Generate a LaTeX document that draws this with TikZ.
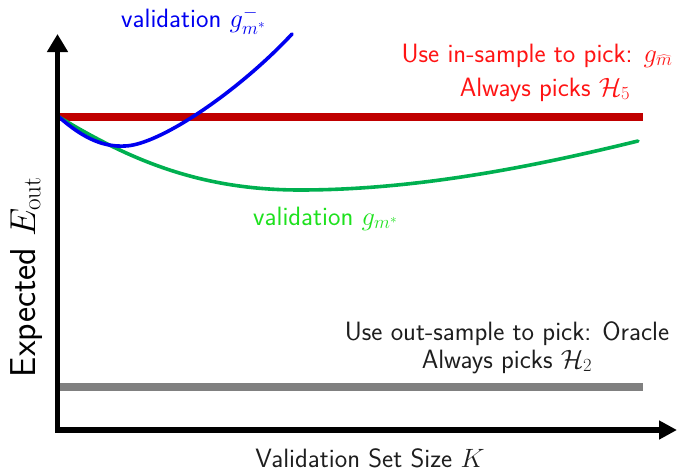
\RequirePackage{fix-cm}
\documentclass[tikz,border=0pt]{standalone}
\usepackage{fontspec}
\usetikzlibrary{arrows.meta}
\definecolor{linered}{RGB}{192,0,0}
\definecolor{textred}{RGB}{255,20,20}
\definecolor{curvegreen}{RGB}{0,176,80}
\definecolor{textgreen}{RGB}{30,225,30}
\definecolor{curveblue}{RGB}{0,0,240}
\definecolor{linegray}{RGB}{128,128,128}
\definecolor{textgray}{RGB}{30,30,30}
\tikzset{
  lbl/.style={inner sep=0pt, font=\fontsize{26.5}{32}\sffamily},
  axisline/.style={line width=5.5pt, black, line join=miter},
  hband/.style={line width=8pt},
  curve/.style={line width=3.6pt, line cap=round},
}
\begin{document}
\begin{tikzpicture}[x=1pt,y=-1pt]
\useasboundingbox (0,0) rectangle (678,474);
% axes
\coordinate (corner) at (57.5,430);
\coordinate (ytip) at (57.5,34);
\coordinate (xtip) at (677,430);
% bands
\draw[hband, linered] (58,116.7) -- (643,116.7);
\draw[hband, linegray] (58,387) -- (643,387);
% curves
\draw[curve, curvegreen] (59,117) .. controls (130,160) and (200,190) .. (300,190) .. controls (420,190) and (540,165) .. (638,141);
\draw[curve, curveblue] (59,117) .. controls (85,140) and (105,147) .. (125,146) .. controls (160,145) and (240,90) .. (292,34);
\draw[axisline, {Triangle[length=18pt,width=20pt]}-{Triangle[length=18pt,width=18pt]}] (ytip) -- (corner) -- (xtip);
% labels
\node[lbl, text=curveblue, anchor=base west] (vblue) at (121,27.5) {validation $g^-_{m^*}$};
\node[lbl, text=textred, anchor=base] (in1) at (537,62) {Use in-sample to pick: $g_{\widehat{m}}$};
\node[lbl, text=textred, anchor=base] (in2) at (545,96) {Always picks $\mathcal{H}_5$};
\node[lbl, text=textgreen, anchor=base west] (vgreen) at (253,225) {validation $g_{m^*}$};
\node[lbl, text=textgray, anchor=base] (out1) at (507,340) {Use out-sample to pick: Oracle};
\node[lbl, text=textgray, anchor=base] (out2) at (507,368) {Always picks $\mathcal{H}_2$};
\node[lbl, text=textgray, anchor=base] (xlab) at (370,467) {Validation Set Size $K$};
\node[inner sep=0pt, font=\fontsize{36}{42}\sffamily, rotate=90, anchor=base] (ylab) at (35,277) {Expected $E_{\mathrm{out}}$};
\end{tikzpicture}
\end{document}
